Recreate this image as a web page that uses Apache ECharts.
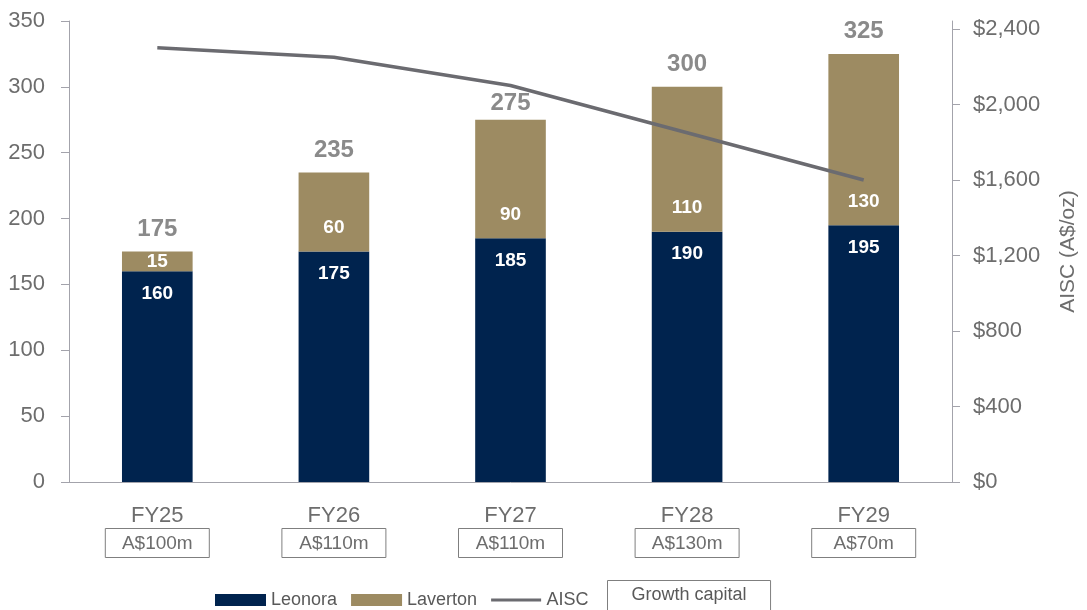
<!DOCTYPE html>
<html>
<head>
<meta charset="utf-8">
<script src="https://cdn.jsdelivr.net/npm/echarts@6/dist/echarts.min.js"></script>
<style>
  html, body { margin: 0; padding: 0; background: #fff; }
  #chart { width: 1087px; height: 610px; }
</style>
</head>
<body>
<div id="chart"></div>
<script>
// 数据
const categories = ["FY25", "FY26", "FY27", "FY28", "FY29"];
const growthCapital = ["A$100m", "A$110m", "A$110m", "A$130m", "A$70m"];
const leonora = [160, 175, 185, 190, 195];
const laverton = [15, 60, 90, 110, 130];
const aisc = [2300, 2250, 2100, 1850, 1600];
const leftTicks = [0, 50, 100, 150, 200, 250, 300, 350];
const rightTicks = [0, 400, 800, 1200, 1600, 2000, 2400];

const totals = leonora.map((v, i) => v + laverton[i]);

const FONT = "'Liberation Sans Narrow', 'Liberation Sans', Arial, sans-serif";
const GREY = "#6d6d6d";
const AXIS = "#a3a3ab";
const LINE = "#6b6b70";

const chart = echarts.init(document.getElementById("chart"));

const option = {
  animation: false,
  textStyle: { fontFamily: FONT },
  grid: { left: 69, right: 130, top: 21, bottom: 128 },
  legend: {
    data: [
      { name: "Leonora", icon: "rect" },
      { name: "Laverton", icon: "rect" },
      // 细线图例
      { name: "AISC", icon: "path://M0 0h0.1v0.01h-0.1zM0 4.5h50v3h-50zM0 11.99h0.1v0.01h-0.1z" },
    ],
    left: 210,
    top: 586,
    itemWidth: 51,
    itemHeight: 12,
    itemGap: 14,
    textStyle: { fontFamily: FONT, fontSize: 18, color: "#595959" },
  },
  xAxis: {
    type: "category",
    data: categories,
    axisLine: { lineStyle: { color: AXIS, width: 1 } },
    axisTick: { length: 6, lineStyle: { color: AXIS } },
    axisLabel: {
      margin: 18,
      formatter: (val, idx) => "{c|" + val + "}\n{b|" + growthCapital[idx] + "}",
      rich: {
        c: { fontFamily: FONT, fontSize: 22, color: GREY, lineHeight: 32 },
        b: {
          fontFamily: FONT,
          fontSize: 19,
          color: GREY,
          borderColor: "#7f7f7f",
          borderWidth: 1,
          width: 92,
          align: "center",
          padding: [6, 6, 4, 6],
          lineHeight: 22,
        },
      },
    },
  },
  yAxis: [
    {
      type: "value",
      min: 0,
      max: 350,
      interval: 50,
      splitLine: { show: false },
      axisLine: { show: true, lineStyle: { color: AXIS } },
      axisTick: { show: true, length: 8, lineStyle: { color: AXIS } },
      axisLabel: {
        margin: 24,
        fontFamily: FONT,
        fontSize: 22,
        color: GREY,
        customValues: leftTicks,
      },
    },
    {
      type: "value",
      min: 0,
      max: 2442,
      position: "right",
      name: "AISC (A$/oz)",
      nameLocation: "middle",
      nameGap: 106,
      nameRotate: 90,
      nameTextStyle: { fontFamily: FONT, fontSize: 21, color: GREY },
      splitLine: { show: false },
      axisLine: { show: true, lineStyle: { color: AXIS } },
      axisTick: { show: true, length: 8, lineStyle: { color: AXIS }, customValues: rightTicks },
      axisLabel: {
        margin: 21,
        fontFamily: FONT,
        fontSize: 22,
        color: GREY,
        customValues: rightTicks,
        formatter: (v) => "$" + v.toLocaleString("en-US"),
      },
    },
  ],
  series: [
    {
      name: "Leonora",
      type: "bar",
      stack: "prod",
      barWidth: "40%",
      data: leonora,
      itemStyle: { color: "#00234e" },
      label: {
        show: true,
        position: "insideTop",
        distance: 13,
        fontFamily: FONT,
        fontSize: 19,
        fontWeight: "bold",
        color: "#fff",
      },
    },
    {
      name: "Laverton",
      type: "bar",
      stack: "prod",
      data: laverton.map((v, i) =>
        i === 0 ? { value: v, label: { position: "inside" } } : v
      ),
      itemStyle: { color: "#9d8b62" },
      label: {
        show: true,
        position: "insideBottom",
        distance: 14,
        fontFamily: FONT,
        fontSize: 19,
        fontWeight: "bold",
        color: "#fff",
      },
    },
    {
      name: "Total",
      type: "scatter",
      // FY27 的标签下移，避开折线
      data: totals.map((v, i) => (i === 2 ? { value: v, label: { distance: 4 } } : v)),
      symbolSize: 1,
      itemStyle: { color: "transparent" },
      label: {
        show: true,
        position: "top",
        distance: 10,
        fontFamily: FONT,
        fontSize: 24,
        fontWeight: "bold",
        color: GREY,
      },
      z: 5,
    },
    {
      name: "AISC",
      type: "line",
      yAxisIndex: 1,
      data: aisc,
      symbol: "none",
      lineStyle: { color: LINE, width: 3.5 },
      itemStyle: { color: LINE },
      z: 4,
    },
  ],
  graphic: [
    {
      type: "text",
      left: 607,
      top: 580,
      style: {
        text: "Growth capital",
        font: "18px " + FONT,
        fill: "#595959",
        borderColor: "#7f7f7f",
        borderWidth: 1,
        padding: [6, 24, 8, 24],
      },
    },
  ],
};

chart.setOption(option);
window.addEventListener("resize", () => chart.resize());
</script>
</body>
</html>
